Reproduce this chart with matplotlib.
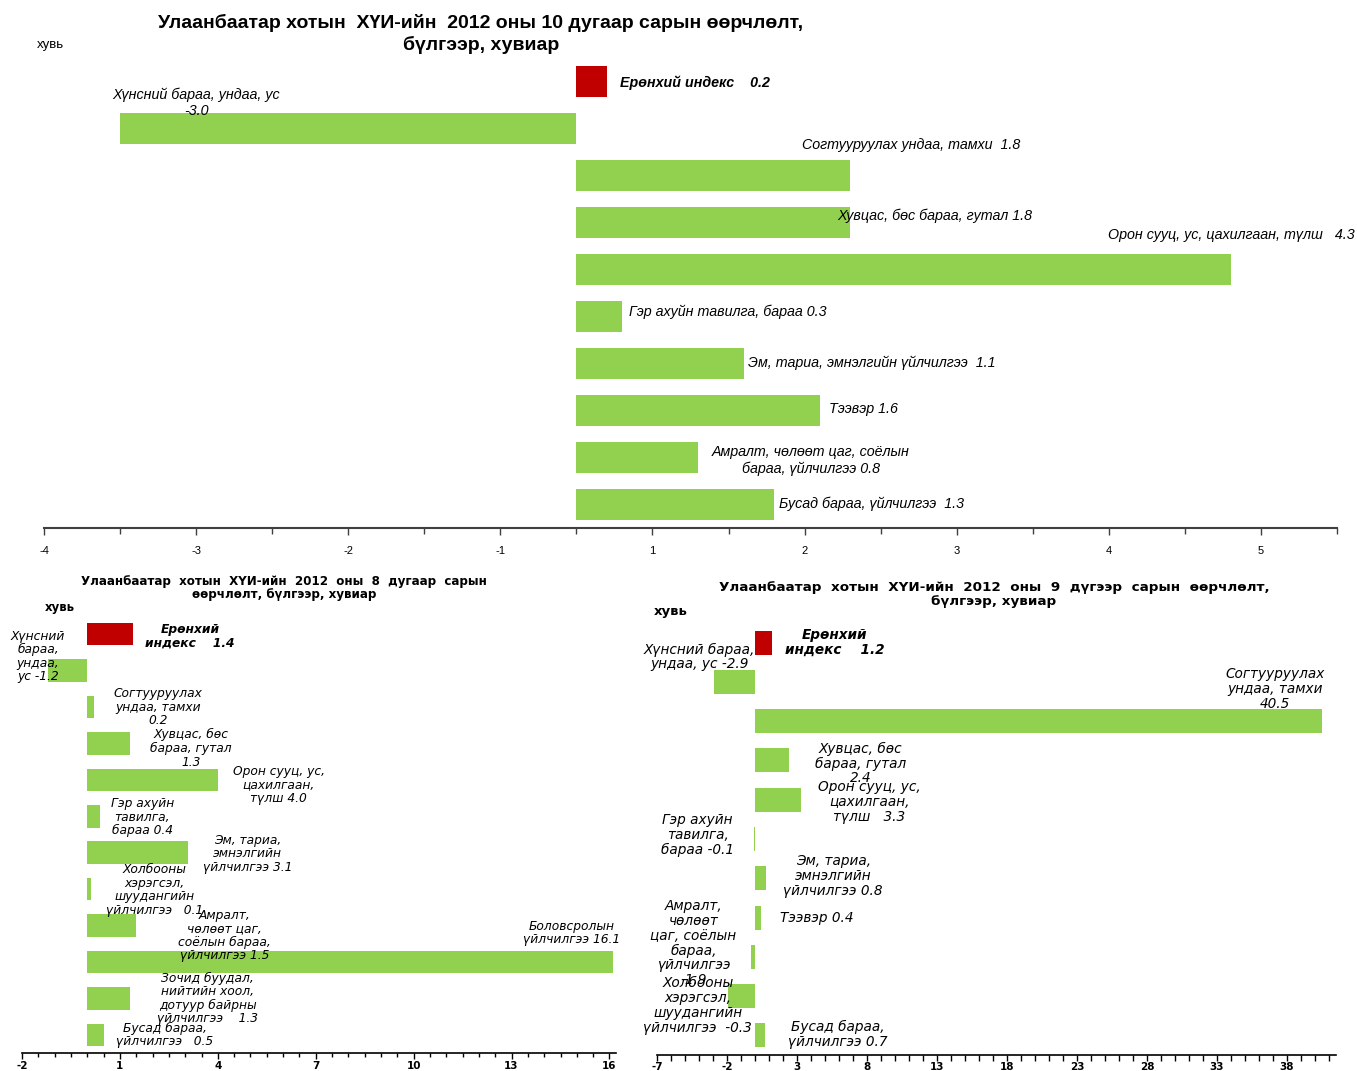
import matplotlib
matplotlib.use('Agg')
import matplotlib.pyplot as plt
from matplotlib import font_manager
import numpy as np

# ---------------- data ----------------
oct_categories = ["Ерөнхий индекс", "Хүнсний бараа, ундаа, ус", "Согтууруулах ундаа, тамхи",
                  "Хувцас, бөс бараа, гутал", "Орон сууц, ус, цахилгаан, түлш",
                  "Гэр ахуйн тавилга, бараа", "Эм, тариа, эмнэлгийн үйлчилгээ", "Тээвэр",
                  "Амралт, чөлөөт цаг, соёлын бараа, үйлчилгээ", "Бусад бараа, үйлчилгээ"]
oct_values = [0.2, -3.0, 1.8, 1.8, 4.3, 0.3, 1.1, 1.6, 0.8, 1.3]
oct_labels = ["Ерөнхий индекс    0.2",
              "Хүнсний бараа, ундаа, ус\n-3.0",
              "Согтууруулах ундаа, тамхи  1.8",
              "Хувцас, бөс бараа, гутал 1.8",
              "Орон сууц, ус, цахилгаан, түлш   4.3",
              "Гэр ахуйн тавилга, бараа 0.3",
              "Эм, тариа, эмнэлгийн үйлчилгээ  1.1",
              "Тээвэр 1.6",
              "Амралт, чөлөөт цаг, соёлын\nбараа, үйлчилгээ 0.8",
              "Бусад бараа, үйлчилгээ  1.3"]
oct_tick_values = [-3.5, -2.5, -1.5, -0.5, 0.5, 1.5, 2.5, 3.5, 4.5]
oct_tick_labels = ["-4", "-3", "-2", "-1", "1", "2", "3", "4", "5"]

aug_categories = ["Ерөнхий индекс", "Хүнсний бараа, ундаа, ус", "Согтууруулах ундаа, тамхи",
                  "Хувцас, бөс бараа, гутал", "Орон сууц, ус, цахилгаан, түлш",
                  "Гэр ахуйн тавилга, бараа", "Эм, тариа, эмнэлгийн үйлчилгээ",
                  "Холбооны хэрэгсэл, шуудангийн үйлчилгээ",
                  "Амралт, чөлөөт цаг, соёлын бараа, үйлчилгээ", "Боловсролын үйлчилгээ",
                  "Зочид буудал, нийтийн хоол, дотуур байрны үйлчилгээ", "Бусад бараа, үйлчилгээ"]
aug_values = [1.4, -1.2, 0.2, 1.3, 4.0, 0.4, 3.1, 0.1, 1.5, 16.1, 1.3, 0.5]
aug_labels = ["Ерөнхий\nиндекс    1.4",
              "Хүнсний\nбараа,\nундаа,\nус -1.2",
              "Согтууруулах\nундаа, тамхи\n0.2",
              "Хувцас, бөс\nбараа, гутал\n1.3",
              "Орон сууц, ус,\nцахилгаан,\nтүлш 4.0",
              "Гэр ахуйн\nтавилга,\nбараа 0.4",
              "Эм, тариа,\nэмнэлгийн\nүйлчилгээ 3.1",
              "Холбооны\nхэрэгсэл,\nшуудангийн\nүйлчилгээ   0.1",
              "Амралт,\nчөлөөт цаг,\nсоёлын бараа,\nүйлчилгээ 1.5",
              "Боловсролын\nүйлчилгээ 16.1",
              "Зочид буудал,\nнийтийн хоол,\nдотуур байрны\nүйлчилгээ    1.3",
              "Бусад бараа,\nүйлчилгээ   0.5"]
aug_tick_values = [-2, 1, 4, 7, 10, 13, 16]
aug_tick_labels = ["-2", "1", "4", "7", "10", "13", "16"]

sep_categories = ["Ерөнхий индекс", "Хүнсний бараа, ундаа, ус", "Согтууруулах ундаа, тамхи",
                  "Хувцас, бөс бараа, гутал", "Орон сууц, ус, цахилгаан, түлш",
                  "Гэр ахуйн тавилга, бараа", "Эм, тариа, эмнэлгийн үйлчилгээ", "Тээвэр",
                  "Холбооны хэрэгсэл, шуудангийн үйлчилгээ",
                  "Амралт, чөлөөт цаг, соёлын бараа, үйлчилгээ", "Бусад бараа, үйлчилгээ"]
sep_values = [1.2, -2.9, 40.5, 2.4, 3.3, -0.1, 0.8, 0.4, -0.3, -1.9, 0.7]
sep_labels = ["Ерөнхий\nиндекс    1.2",
              "Хүнсний бараа,\nундаа, ус -2.9",
              "Согтууруулах\nундаа, тамхи\n40.5",
              "Хувцас, бөс\nбараа, гутал\n2.4",
              "Орон сууц, ус,\nцахилгаан,\nтүлш   3.3",
              "Гэр ахуйн\nтавилга,\nбараа -0.1",
              "Эм, тариа,\nэмнэлгийн\nүйлчилгээ 0.8",
              "Тээвэр 0.4",
              "Холбооны\nхэрэгсэл,\nшуудангийн\nүйлчилгээ  -0.3",
              "Амралт,\nчөлөөт\nцаг, соёлын\nбараа,\nүйлчилгээ\n-1.9",
              "Бусад бараа,\nүйлчилгээ 0.7"]
sep_tick_values = [-7, -2, 3, 8, 13, 18, 23, 28, 33, 38]
sep_tick_labels = ["-7", "-2", "3", "8", "13", "18", "23", "28", "33", "38"]

oct_title = "Улаанбаатар хотын  ХҮИ-ийн  2012 оны 10 дугаар сарын өөрчлөлт,\nбүлгээр, хувиар"
aug_title = "Улаанбаатар  хотын  ХҮИ-ийн  2012  оны  8  дугаар  сарын\nөөрчлөлт, бүлгээр, хувиар"
sep_title = "Улаанбаатар  хотын  ХҮИ-ийн  2012  оны  9  дүгээр  сарын  өөрчлөлт,\nбүлгээр, хувиар"
unit_label = "хувь"

# ---------------- styles / positions ----------------
GREEN = "#92D050"
RED = "#C00000"
avail = {f.name for f in font_manager.fontManager.ttflist}
NARROW = "Liberation Sans Narrow" if "Liberation Sans Narrow" in avail else "Liberation Sans"
WIDE = "DejaVu Sans"

# label placement: (ha, dx_px, dy_px) relative to bar end
oct_label_pos = [("left", 13, -1), ("center", 76, 26), ("left", -48, 31), ("left", -13, 7),
                 ("right", 124, 35), ("left", 7, 5), ("left", 4, 1), ("left", 9, 1),
                 ("center", 113, -3), ("left", 5, 1)]
aug_label_pos = [("center", 57, -2), ("center", -10, 14), ("center", 64, 0), ("center", 61, -5),
                 ("center", 61, -5), ("center", 42, -1), ("center", 59, -1), ("center", 64, -1),
                 ("center", 88, -10), ("center", -41, 29), ("center", 78, 0), ("center", 61, 0)]
sep_label_pos = [("center", 63, 0), ("center", -15, 25), ("center", -47, 32), ("center", 72, -3),
                 ("center", 68, -2), ("center", -56, 4), ("center", 67, 2), ("center", 56, 0),
                 ("center", -53, -49), ("center", -35, 53), ("center", 73, 1)]

W, H = 1357, 1071
fig = plt.figure(figsize=(W / 100, H / 100), dpi=100)
fig.patch.set_facecolor("white")


def px_axes(x0, y0, x1, y1):
    return fig.add_axes([x0 / W, 1 - y1 / H, (x1 - x0) / W, (y1 - y0) / H])


def draw_panel(ax, values, labels, label_pos, height, xlim, major, major_labels, minor,
               spine_color, spine_lw, tick_fs, tick_font, tick_weight, label_font, label_fs,
               line_sp, maj_len, min_len, pad):
    n = len(values)
    ypos = np.arange(n)
    colors = [RED] + [GREEN] * (n - 1)
    ax.barh(ypos, values, height=height, color=colors, edgecolor="none")
    ax.set_xlim(*xlim)
    ax.set_ylim(n - 0.5, -0.5)
    for s in ["top", "left", "right"]:
        ax.spines[s].set_visible(False)
    ax.spines["bottom"].set_color(spine_color)
    ax.spines["bottom"].set_linewidth(spine_lw)
    ax.set_yticks([])
    ax.set_xticks(major)
    ax.set_xticklabels(major_labels, fontfamily=tick_font, fontsize=tick_fs, fontweight=tick_weight)
    ax.set_xticks(minor, minor=True)
    ax.tick_params(axis="x", which="major", length=maj_len, width=1, color=spine_color, pad=pad,
                   direction="out")
    ax.tick_params(axis="x", which="minor", length=min_len, width=1, color=spine_color,
                   direction="out")
    ax.set_facecolor("none")
    for i, (v, lab, (ha, dx, dy)) in enumerate(zip(values, labels, label_pos)):
        ax.annotate(lab, xy=(v, i), xytext=(dx, dy), textcoords="offset pixels",
                    ha=ha, va="center", multialignment="center",
                    fontfamily=label_font, fontsize=label_fs, linespacing=line_sp,
                    style="italic", fontweight="bold" if i == 0 else "normal",
                    color="black", annotation_clip=False)


# ---- October (top) ----
ax1 = px_axes(44, 58, 1337, 528)
draw_panel(ax1, oct_values, oct_labels, oct_label_pos, 0.64, (-3.5, 5.0),
           oct_tick_values, oct_tick_labels, np.arange(-3, 6, 1.0),
           "#404040", 1.5, 8, NARROW, "normal", NARROW, 10.3, 1.15, 5, 4, 8)
fig.text(481 / W, 1 - 34 / H, oct_title, ha="center", va="center", multialignment="center",
         fontfamily=NARROW, fontsize=14, fontweight="bold", linespacing=1.25)
fig.text(50 / W, 1 - 45 / H, unit_label, ha="center", va="center", fontfamily=NARROW, fontsize=9.5)

# ---- August (bottom left) ----
ax2 = px_axes(22, 616, 616, 1053)
draw_panel(ax2, aug_values, aug_labels, aug_label_pos, 0.62, (-2, 16.2),
           aug_tick_values, aug_tick_labels, np.arange(-2, 16.01, 0.5),
           "black", 1.2, 7.5, WIDE, "bold", WIDE, 8.8, 1.05, 4, 3, 1.5)
fig.text(284 / W, 1 - 588 / H, aug_title, ha="center", va="center", multialignment="center",
         fontfamily=WIDE, fontsize=8.6, fontweight="bold", linespacing=1.05)
fig.text(60 / W, 1 - 607 / H, unit_label, ha="center", va="center", fontfamily=WIDE,
         fontsize=8.5, fontweight="bold")

# ---- September (bottom right) ----
ax3 = px_axes(657, 623, 1336, 1055)
draw_panel(ax3, sep_values, sep_labels, sep_label_pos, 0.61, (-7, 41.5),
           sep_tick_values, sep_tick_labels, np.arange(-7, 41.01, 1.0),
           "black", 1.2, 7.5, WIDE, "bold", WIDE, 9.8, 1.08, 4, 4, 1.0)
fig.text(994 / W, 1 - 595 / H, sep_title, ha="center", va="center", multialignment="center",
         fontfamily=WIDE, fontsize=9.7, fontweight="bold", linespacing=1.1)
fig.text(671 / W, 1 - 612 / H, unit_label, ha="center", va="center", fontfamily=WIDE,
         fontsize=9.5, fontweight="bold")

fig.savefig("out.png", dpi=100, facecolor="white")
